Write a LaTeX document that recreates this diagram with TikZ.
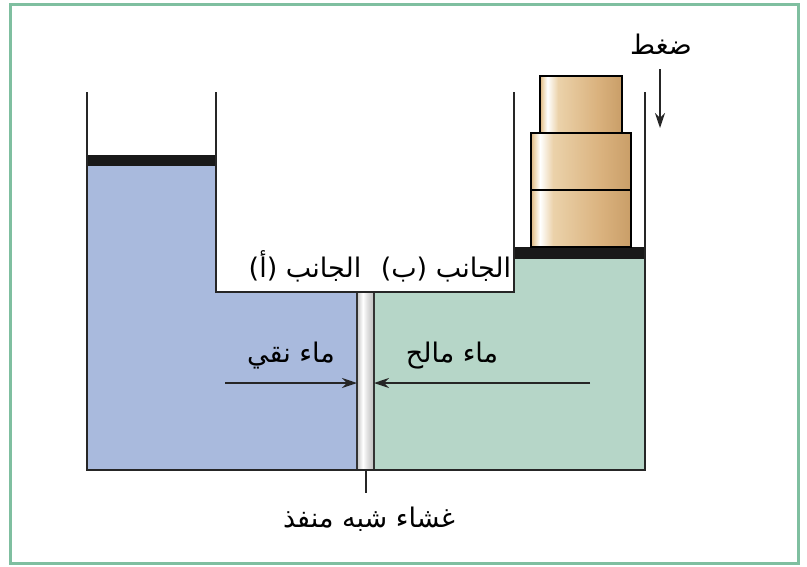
\documentclass[tikz,border=0pt]{standalone}
\usepackage{fontspec}
\newfontfamily\arabicfont[Script=Arabic]{DejaVu Sans}
\TeXXeTstate=1
\usetikzlibrary{arrows.meta}

\definecolor{framegreen}{HTML}{7FBFA0}
\definecolor{freshblue}{HTML}{A9BADD}
\definecolor{saltgreen}{HTML}{B6D6C8}
\definecolor{tanlight}{HTML}{EBD2AA}
\definecolor{tanmid}{HTML}{DAB27E}
\definecolor{tandark}{HTML}{C99E68}
\definecolor{membranegray}{HTML}{DADADA}

% the drawn area covers the 25bp..75bp band of each shading
\pgfdeclarehorizontalshading{weightshade}{100bp}{%
  color(0bp)=(tanmid); color(25bp)=(tanmid); color(26.5bp)=(tanlight); color(29.5bp)=(white);
  color(36bp)=(tanlight); color(60bp)=(tanmid); color(75bp)=(tandark); color(100bp)=(tandark)}
\pgfdeclarehorizontalshading{membraneshade}{100bp}{%
  color(0bp)=(gray!45); color(25bp)=(gray!45); color(42bp)=(white);
  color(58bp)=(membranegray); color(75bp)=(gray!50); color(100bp)=(gray!50)}

\tikzset{
  wall/.style={draw=black!85, line width=2.2pt},
  pistonbar/.style={fill=black!90},
  weightbox/.style={draw=black, line width=1.8pt, shading=weightshade, inner sep=0pt},
  artext/.style={font=\arabicfont\fontsize{27}{30}\selectfont, inner sep=0pt},
  flowarrow/.style={draw=black!85, line width=1.6pt, -{Stealth[length=15pt,width=10pt]}},
}

\begin{document}
\begin{tikzpicture}[x=1pt,y=-1pt]
\useasboundingbox (0,0) rectangle (807,566);
% outer frame
\draw[framegreen, line width=3pt] (10,4) rectangle (798,563);

% water on both sides of the membrane
\fill[freshblue] (87,166) -- (216,166) -- (216,292) -- (358,292) -- (358,470) -- (87,470) -- cycle;
\fill[saltgreen] (373,292) -- (514,292) -- (514,259) -- (645,259) -- (645,470) -- (373,470) -- cycle;

% semi-permeable membrane
\shade[shading=membraneshade] (357,292) rectangle (374,470);
\draw[black!80, line width=1.4pt] (357,292) -- (357,470) (374,292) -- (374,470);

% pistons
\fill[pistonbar] (87,155) rectangle (216,166);
\fill[pistonbar] (514,247) rectangle (645,259);

% U-tube walls
\draw[wall] (87,92) -- (87,470) -- (645,470) -- (645,92);
\draw[wall] (216,92) -- (216,292) -- (514,292) -- (514,92);

% membrane pointer
\coordinate (memtop) at (366,470);
\coordinate (membot) at (366,493);
\draw[black!85, line width=1.5pt] (memtop) -- (membot);

% weights on the right piston
\node[weightbox, minimum width=100pt, minimum height=57pt] (wlow) at (581,218.5) {};
\node[weightbox, minimum width=100pt, minimum height=57pt] (wmid) at (581,161.5) {};
\node[weightbox, minimum width=82pt, minimum height=57pt] (wtop) at (581,104.5) {};

% pressure
\node[artext, anchor=base] (press) at (661,54) {\beginR ضغط\endR};
\coordinate (parrowtop) at (660,69);
\coordinate (parrowbot) at (660,128);
\draw[flowarrow] (parrowtop) -- (parrowbot);

% side labels
\node[artext, anchor=base] (sideb) at (446,277) {\beginR الجانب (ب)\endR};
\node[artext, anchor=base] (sidea) at (305,277) {\beginR الجانب (أ)\endR};

% water labels and arrows
\node[artext, anchor=base] (fresh) at (291,362) {\beginR ماء نقي\endR};
\node[artext, anchor=base] (salt) at (452,362) {\beginR ماء مالح\endR};
\coordinate (freshstart) at (225,383);
\coordinate (freshend) at (357,383);
\coordinate (saltstart) at (590,383);
\coordinate (saltend) at (374,383);
\draw[flowarrow] (freshstart) -- (freshend);
\draw[flowarrow] (saltstart) -- (saltend);

% membrane label
\node[artext, anchor=base] (memlabel) at (369,527) {\beginR غشاء شبه منفذ\endR};
\end{tikzpicture}
\end{document}
